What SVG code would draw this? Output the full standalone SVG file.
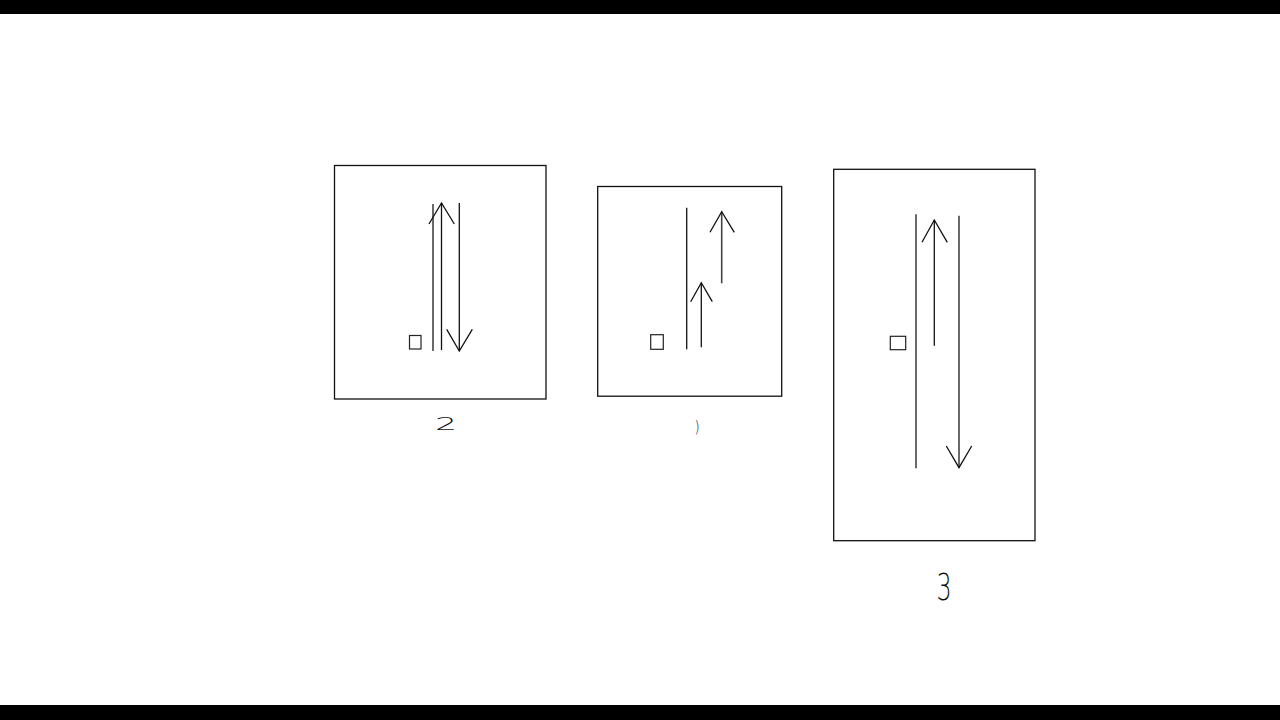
<svg xmlns="http://www.w3.org/2000/svg" width="1280" height="720" viewBox="0 0 1280 720">
<style>
.frame{fill:#fff;stroke:#111;stroke-width:1.3}
.ln{stroke:#111;stroke-width:1.3;fill:none}
.gl{stroke:#444;stroke-width:1.6;fill:none}
.sq{fill:#fff;stroke:#222;stroke-width:1.2}
.lbl{font-family:"DejaVu Sans",sans-serif;font-weight:300;fill:#111}
</style>
<rect x="0" y="0" width="1280" height="720" fill="#fff"/>
<rect x="0" y="0" width="1280" height="14" fill="#000"/>
<rect x="0" y="705" width="1280" height="15" fill="#000"/>
<g id="box2">
<rect class="frame" x="334.5" y="165.5" width="211.5" height="233.5"/>
<rect class="sq" x="409.5" y="335.5" width="11.5" height="13.5"/>
<text class="lbl" transform="translate(446,430) scale(1.45,0.75)" font-size="24" text-anchor="middle">2</text>
</g>
<g id="box1">
<rect class="frame" x="597.7" y="186.5" width="184" height="209.7"/>
<rect class="sq" x="650.7" y="334.7" width="12.6" height="14.6"/>
<text class="lbl" transform="translate(697,432) scale(0.6,0.75)" font-size="22" text-anchor="middle">)</text>
</g>
<g id="box3">
<rect class="frame" x="833.7" y="169.3" width="201.3" height="371.4"/>
<rect class="sq" x="890.3" y="336.3" width="15.4" height="13.4"/>
<text class="lbl" transform="translate(944,600) scale(0.85,1.3)" font-size="28" text-anchor="middle">3</text>
</g>
<g id="connectors">
<line class="gl" x1="433" y1="204" x2="433" y2="351"/>
<polyline class="ln" points="441.5,350 441.5,203"/>
<polyline class="ln" points="429,224 441.5,203 454.3,224"/>
<line class="ln" x1="459.3" y1="203" x2="459.3" y2="351"/>
<polyline class="ln" points="446.7,329.3 459.3,351 472.3,329.3"/>
<line class="ln" x1="686.7" y1="207.7" x2="686.7" y2="349.3"/>
<line class="ln" x1="701.3" y1="347.3" x2="701.3" y2="282.7"/>
<polyline class="ln" points="690.7,301.7 701.3,282.7 712.3,301.7"/>
<line class="gl" x1="721.7" y1="283.3" x2="721.7" y2="211.7"/>
<polyline class="ln" points="710,232.3 721.7,211.7 734.3,232.3"/>
<line class="gl" x1="916" y1="214.3" x2="916" y2="468.3"/>
<line class="ln" x1="934.3" y1="345.7" x2="934.3" y2="220"/>
<polyline class="ln" points="922,242.3 934.3,220 947.3,242.3"/>
<line class="gl" x1="959" y1="215.7" x2="959" y2="467.7"/>
<polyline class="ln" points="946.3,446 959,467.7 971.7,446"/>
</g>
</svg>
